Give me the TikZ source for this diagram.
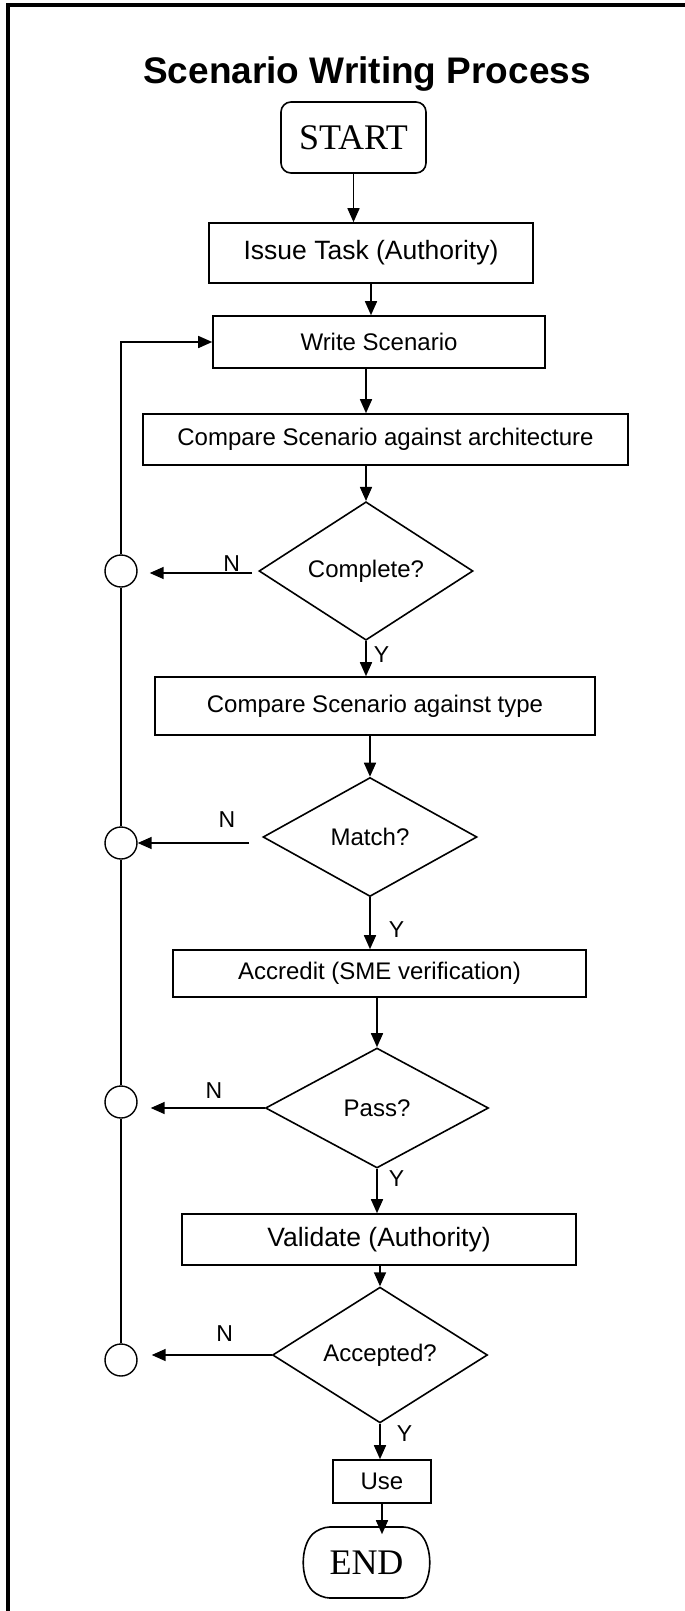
\documentclass[tikz,border=0pt]{standalone}
\usepackage{fontspec}
\setmainfont{Liberation Sans}
\newfontfamily\termfont{Liberation Serif}
\usetikzlibrary{arrows.meta, positioning, shapes.geometric, shapes.misc}

\begin{document}
\begin{tikzpicture}
[x=1pt, y=-1pt,
->/.style={line width=1.6pt, arrows={-Triangle[length=14pt,width=12pt]}},
   termG/.style={shape=rectangle, rounded corners=10pt, draw, line width=1.6pt, inner sep=0pt, font=\termfont\fontsize{36}{40}\selectfont},
   stepG/.style={shape=rectangle, draw, line width=1.6pt, inner sep=0pt, font=\fontsize{24}{28}\selectfont},
   askG/.style={shape=diamond, draw, line width=1.6pt, inner sep=0pt, minimum width=214pt, minimum height=119pt, font=\fontsize{24}{28}\selectfont},
   joinG/.style={shape=circle, draw, line width=1.4pt, minimum size=32pt, inner sep=0pt},
   yn/.style={inner sep=0pt, font=\fontsize{23}{26}\selectfont}]
\useasboundingbox (0,0) rectangle (685,1611);
\draw [line width=3.5pt] (8,1611) -- (8,5) -- (685,5);
\node[font=\bfseries\fontsize{37}{42}\selectfont, anchor=base] (Title) at (367,83) {Scenario Writing Process};
\node[termG, minimum width=145pt, minimum height=71pt] (Start) at (353.5,137.5) {START};
\node[stepG, minimum width=324pt, minimum height=60pt, font=\fontsize{26.5}{30}\selectfont] (Issue) at (371,253) {Issue Task (Authority)};
\node[stepG, minimum width=332pt, minimum height=52pt] (Write) at (379,342) {Write Scenario};
\node[stepG, minimum width=485pt, minimum height=51pt] (CmpArch) at (385.5,439.5) {Compare Scenario against architecture};
\node[askG] (Done) at (366,571) {Complete?};
\node[stepG, minimum width=440pt, minimum height=58pt] (CmpType) at (375,706) {Compare Scenario against type};
\node[askG] (Match) at (370,837) {Match?};
\node[stepG, minimum width=413pt, minimum height=47pt] (Accredit) at (379.5,973.5) {Accredit (SME verification)};
\node[askG, minimum width=223pt, minimum height=120pt] (Pass) at (377,1108) {Pass?};
\node[stepG, minimum width=394pt, minimum height=51pt, font=\fontsize{26.5}{30}\selectfont] (Valid) at (379,1239.5) {Validate (Authority)};
\node[askG, minimum width=215pt, minimum height=120pt] (Accept) at (380,1355) {Accepted?};
\node[stepG, minimum width=98pt, minimum height=43pt] (Use) at (382,1481.5) {Use};
\node[termG, shape=rounded rectangle, rounded rectangle arc length=90, minimum width=123pt, minimum height=71pt] (End) at (366.5,1562.5) {END};
%% rejoin points on the way back
\node[joinG] (J1) at (121,571) {};
\node[joinG] (J2) at (121,843) {};
\node[joinG] (J3) at (121,1102) {};
\node[joinG] (J4) at (121,1360) {};
\draw [->] (Start.south) -- (Start.south |- Issue.north);
\draw [->] (Issue.south) -- (Issue.south |- Write.north);
\draw [->] (Write.south -| Done.north) -- (CmpArch.north -| Done.north);
\draw [->] (CmpArch.south -| Done.north) -- (Done.north);
\draw [->] (Done.south) -- (Done.south |- CmpType.north) node [yn, pos=0.38, right=7pt] {Y};
\draw [->] (CmpType.south -| Match.north) -- (Match.north);
\draw [->] (Match.south) -- (Match.south |- Accredit.north) node [yn, pos=0.63, right=18pt] {Y};
\draw [->] (Accredit.south -| Pass.north) -- (Pass.north);
\draw [->] (Pass.south) -- (Pass.south |- Valid.north) node [yn, pos=0.22, right=11pt] {Y};
\draw [->] (Valid.south -| Accept.north) -- (Accept.north);
\draw [->] (Accept.south) -- (Accept.south |- Use.north) node [yn, pos=0.29, right=16pt] {Y};
\draw [->, shorten >=-8pt] (Use.south) -- (Use.south |- End.north);
\coordinate [below left=2pt and 6pt of Done.west] (d1);
\draw [->, shorten >=12pt] (d1) -- (d1 -| J1.east) node [yn, pos=0.18, above=1pt] {N};
\coordinate [below left=6pt and 13pt of Match.west] (m1);
\draw [->] (m1) -- (m1 -| J2.east) node [yn, pos=0.2, above=15pt] {N};
\draw [->, shorten >=13pt] (Pass.west) -- (Pass.west -| J3.east) node [yn, pos=0.4, above=9pt] {N};
\draw [->, shorten >=14pt] (Accept.west) -- (Accept.west -| J4.east) node [yn, pos=0.35, above=13pt] {N};
\draw [line width=1.6pt] (J4) -- (J3);
\draw [line width=1.6pt] (J3) -- (J2);
\draw [line width=1.6pt] (J2) -- (J1);
\draw [->] (J1.north) |- (Write.west);
\end{tikzpicture}
\end{document}
